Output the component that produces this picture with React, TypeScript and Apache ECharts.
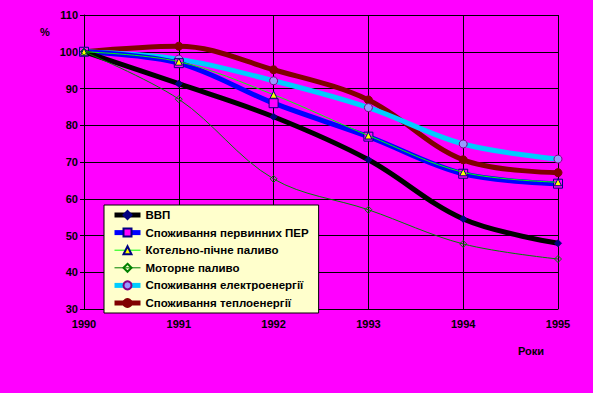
import React, { useEffect, useRef } from "react";
import * as echarts from "echarts";

const years = ["1990", "1991", "1992", "1993", "1994", "1995"];
const vvp = [100, 91.3, 82.3, 70.6, 54.5, 47.9];
const per = [100, 96.9, 86.0, 76.9, 66.8, 64.1];
const kotelno = [100, 97.3, 88.3, 77.2, 67.2, 64.5];
const motorne = [100, 87.1, 65.4, 57.0, 47.7, 43.6];
const elektro = [100, 98.0, 92.1, 84.8, 74.9, 70.8];
const teplo = [100, 101.5, 95.1, 86.9, 70.6, 67.1];

const names = [
  "ВВП",
  "Споживання первинних ПЕР",
  "Котельно-пічне паливо",
  "Моторне паливо",
  "Споживання електроенергії",
  "Споживання теплоенергії",
];
const widths = [5, 5, 1, 1, 5, 5];

export default function App() {
  const ref = useRef<HTMLDivElement>(null);
  useEffect(() => {
    const chart = echarts.init(ref.current!, null, { renderer: "svg" });
    const font = "Arial, 'Liberation Sans', sans-serif";
    const mk = (
      name: string,
      data: number[],
      color: string,
      width: number,
      symbol: string,
      size: number,
      fill: string,
      border: string,
      z: number
    ) => ({
      type: "line",
      name,
      data,
      smooth: 0.35,
      z,
      symbol,
      symbolSize: size,
      showSymbol: true,
      lineStyle: { color, width },
      itemStyle: { color: fill, borderColor: border, borderWidth: 1 },
    });
    chart.setOption({
      animation: false,
      backgroundColor: "#FF00FF",
      grid: { left: 84, right: 35, top: 15, bottom: 84 },
      graphic: [
        { type: "text", left: 40, top: 26, style: { text: "%", fill: "#000", font: `bold 11px ${font}` } },
        { type: "text", left: 518, top: 345, style: { text: "Роки", fill: "#000", font: `bold 11px ${font}` } },
      ],
      xAxis: {
        type: "category",
        data: years,
        boundaryGap: false,
        axisLine: { lineStyle: { color: "#000", width: 1 } },
        axisTick: { show: false },
        splitLine: { show: true, lineStyle: { color: "#000", width: 1 } },
        axisLabel: { color: "#000", fontWeight: "bold", fontSize: 11, fontFamily: font, margin: 9 },
      },
      yAxis: {
        type: "value",
        min: 30,
        max: 110,
        interval: 10,
        axisLine: { show: true, lineStyle: { color: "#000" } },
        axisTick: { show: true, length: 4, inside: false, lineStyle: { color: "#000" } },
        splitLine: { show: true, lineStyle: { color: "#000", width: 1 } },
        axisLabel: { color: "#000", fontWeight: "bold", fontSize: 11, fontFamily: font, margin: 6 },
      },
      legend: {
        left: 104,
        top: 205,
        orient: "vertical",
        backgroundColor: "#FFFFCC",
        borderColor: "#000",
        borderWidth: 1,
        borderRadius: 0,
        padding: [4, 10, 4, 8],
        itemWidth: 26,
        itemHeight: 10,
        itemGap: 5.6,
        textStyle: { color: "#000", fontWeight: "bold", fontSize: 11.5, fontFamily: font },
        data: names.map((n, i) => ({ name: n, lineStyle: { width: widths[i] } })),
      },
      series: [
        mk(names[0], vvp, "#000000", 5, "diamond", 7, "#000080", "#000080", 6),
        mk(names[1], per, "#0000FF", 5, "rect", 9, "#FF00FF", "#000080", 5),
        mk(names[2], kotelno, "#00FF00", 1, "triangle", 7, "#FFFF00", "#000080", 7),
        mk(names[3], motorne, "#008000", 1, "diamond", 7, "transparent", "#008000", 7),
        mk(names[4], elektro, "#00CCFF", 5, "circle", 8, "#9999FF", "#800080", 4),
        mk(names[5], teplo, "#800000", 5, "circle", 8, "#800000", "#800000", 3),
      ],
    });
    return () => chart.dispose();
  }, []);
  return <div ref={ref} style={{ width: 593, height: 393, position: "absolute", left: 0, top: 0 }} />;
}
